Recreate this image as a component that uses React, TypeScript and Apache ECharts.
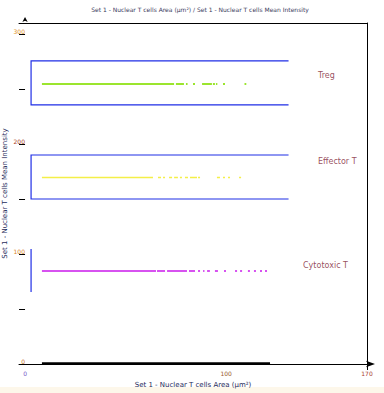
import React, { useEffect, useRef } from "react";
import * as echarts from "echarts";

const titleText = "Set 1 - Nuclear T cells Area (µm²) / Set 1 - Nuclear T cells Mean Intensity";
const xName = "Set 1 - Nuclear T cells Area (µm²)";
const yName = "Set 1 - Nuclear T cells Mean Intensity";

const xLabelValues = [0, 100, 170];
const xTickValues = [170];
const yLabelValues = [0, 100, 200, 300];
const yTickValues = [0, 50, 100, 150, 200, 250, 300];

// cell populations: mean intensity and runs of cells along nuclear area
const popNames = ["Treg", "Effector T", "Cytotoxic T", "Ungated"];
const popIntensity = [254.5, 170, 84.5, 1];
const popColors = ["#9be52e", "#f4ef48", "#d752f0", "#000000"];
const popWidths = [2, 1.3, 2, 2.6];
const tregRuns = [
  [8.4, 74.1], [75.0, 79.0], [80.0, 80.8], [83.5, 84.5], [88.0, 92.9],
  [93.4, 94.4], [94.9, 95.6], [98.4, 99.4], [109.1, 110.0],
];
const effectorRuns = [
  [8.4, 63.6], [66.1, 67.6], [68.6, 69.6], [71.6, 73.1], [74.1, 76.0],
  [77.0, 78.0], [79.5, 81.0], [82.0, 85.5], [86.0, 87.0], [95.4, 96.9],
  [98.4, 99.4], [100.9, 101.9], [106.4, 107.4],
];
const cytotoxicRuns = [
  [8.4, 65.1], [65.6, 69.6], [70.6, 80.5], [81.5, 84.5], [86.0, 87.0],
  [88.5, 89.2], [90.5, 91.9], [94.4, 95.9], [98.9, 99.9], [104.4, 105.4],
  [106.9, 107.9], [110.8, 111.8], [113.8, 114.8], [116.8, 117.8], [119.3, 120.3],
];
const ungatedRuns = [[8.4, 121.8]];
const popRuns = [tregRuns, effectorRuns, cytotoxicRuns, ungatedRuns];

// gates
const gateNames = ["Treg", "Effector T", "Cytotoxic T"];
const gateLeft = [3, 3, 3];
const gateRight = [131, 131, 3];
const gateBottom = [235.5, 150, 65.5];
const gateTop = [275.5, 190, 104.5];
const gateClosed = [true, true, false];
const gateLabelX = [145.6, 145.6, 138.2];
const gateLabelY = [262.7, 184, 89.4];

const yLabelColors: Record<string, string> = { "0": "#c7741c", "100": "#d98426", "200": "#a8401c", "300": "#e0901c" };
const xLabelColors: Record<string, string> = { "0": "#7a58c8", "100": "#9a5a2a", "170": "#a83c2c" };

export default function App() {
  const ref = useRef<HTMLDivElement>(null);
  useEffect(() => {
    if (!ref.current) return;
    const chart = echarts.init(ref.current, undefined, { renderer: "svg" });
    const font = "DejaVu Sans, sans-serif";

    const popSeries = popNames.map((name, i) => ({
      type: "lines",
      name,
      coordinateSystem: "cartesian2d",
      silent: true,
      z: 3,
      lineStyle: { color: popColors[i], width: popWidths[i], opacity: 1, cap: "butt", curveness: 0 },
      data: popRuns[i].map(([a, b]) => ({ coords: [[a, popIntensity[i]], [b, popIntensity[i]]] })),
    }));

    const gateSeries = {
      type: "lines",
      name: "gates",
      coordinateSystem: "cartesian2d",
      polyline: true,
      silent: true,
      z: 2,
      lineStyle: { color: "#1f2ee6", width: 1.2, opacity: 1, curveness: 0 },
      data: gateNames.map((n, i) => ({
        name: n,
        coords: gateClosed[i]
          ? [
              [gateRight[i], gateTop[i]],
              [gateLeft[i], gateTop[i]],
              [gateLeft[i], gateBottom[i]],
              [gateRight[i], gateBottom[i]],
            ]
          : [
              [gateLeft[i], gateTop[i]],
              [gateLeft[i], gateBottom[i]],
            ],
      })),
    };

    const labelSeries = {
      type: "scatter",
      name: "gate labels",
      symbolSize: 0,
      silent: true,
      data: gateNames.map((n, i) => ({ name: n, value: [gateLabelX[i], gateLabelY[i]] })),
      label: {
        show: true,
        position: "right",
        distance: 0,
        formatter: "{b}",
        color: "#7e2234",
        fontSize: 8,
        fontFamily: font,
        align: "left",
        verticalAlign: "middle",
      },
    };

    chart.setOption({
      animation: false,
      backgroundColor: "transparent",
      title: {
        text: titleText,
        left: 195,
        textAlign: "center",
        top: 1,
        textStyle: { fontSize: 6, fontWeight: "normal", color: "#3a3a5c", fontFamily: font },
      },
      grid: { left: 19, right: 17, top: 23, bottom: 29, containLabel: false, outerBoundsMode: "none" },
      xAxis: [
        {
          type: "value",
          min: -3,
          max: 170,
          name: xName,
          nameLocation: "middle",
          nameGap: 17,
          nameMoveOverlap: false,
          nameTextStyle: { fontSize: 7, color: "#1e2a5a", fontFamily: font },
          splitLine: { show: false },
          axisLine: {
            show: true,
            onZero: true,
            lineStyle: { color: "#000", width: 1 },
            symbol: ["none", "arrow"],
            symbolSize: [5, 9],
            symbolOffset: [0, 8],
          },
          axisTick: { show: true, length: 6, customValues: xTickValues, lineStyle: { color: "#000" } },
          axisLabel: {
            show: true,
            customValues: xLabelValues,
            margin: 6,
            fontSize: 6,
            fontFamily: font,
            color: (v: any) => xLabelColors[String(Number(v))] || "#9a5a2a",
          },
        },
        {
          type: "value",
          min: -3,
          max: 170,
          position: "top",
          splitLine: { show: false },
          axisLine: { show: true, onZero: false, lineStyle: { color: "#000", width: 1 } },
          axisTick: { show: false },
          axisLabel: { show: false },
        },
      ],
      yAxis: [
        {
          type: "value",
          min: 0,
          max: 310,
          name: yName,
          nameLocation: "middle",
          nameGap: 11,
          nameMoveOverlap: false,
          nameTextStyle: { fontSize: 7, color: "#1e2a5a", fontFamily: font },
          splitLine: { show: false },
          axisLine: {
            show: true,
            onZero: true,
            lineStyle: { color: "#000", width: 0 },
            symbol: ["none", "arrow"],
            symbolSize: [4, 5],
            symbolOffset: [0, 6],
          },
          axisTick: { show: true, length: 6, customValues: yTickValues, lineStyle: { color: "#000", width: 1 } },
          axisLabel: {
            show: true,
            customValues: yLabelValues,
            margin: -6,
            fontSize: 6,
            fontFamily: font,
            verticalAlign: "bottom",
            color: (v: any) => yLabelColors[String(Number(v))] || "#d98426",
          },
        },
        {
          type: "value",
          min: 0,
          max: 310,
          position: "right",
          splitLine: { show: false },
          axisLine: { show: true, onZero: false, lineStyle: { color: "#000", width: 1 } },
          axisTick: { show: false },
          axisLabel: { show: false },
        },
      ],
      series: [gateSeries, ...popSeries, labelSeries],
    });
    return () => chart.dispose();
  }, []);
  return (
    <div
      ref={ref}
      style={{
        position: "absolute",
        left: 0,
        top: 0,
        width: 384,
        height: 393,
        background: "linear-gradient(to bottom, #ffffff 387px, #fdf7ea 387px)",
      }}
    />
  );
}
